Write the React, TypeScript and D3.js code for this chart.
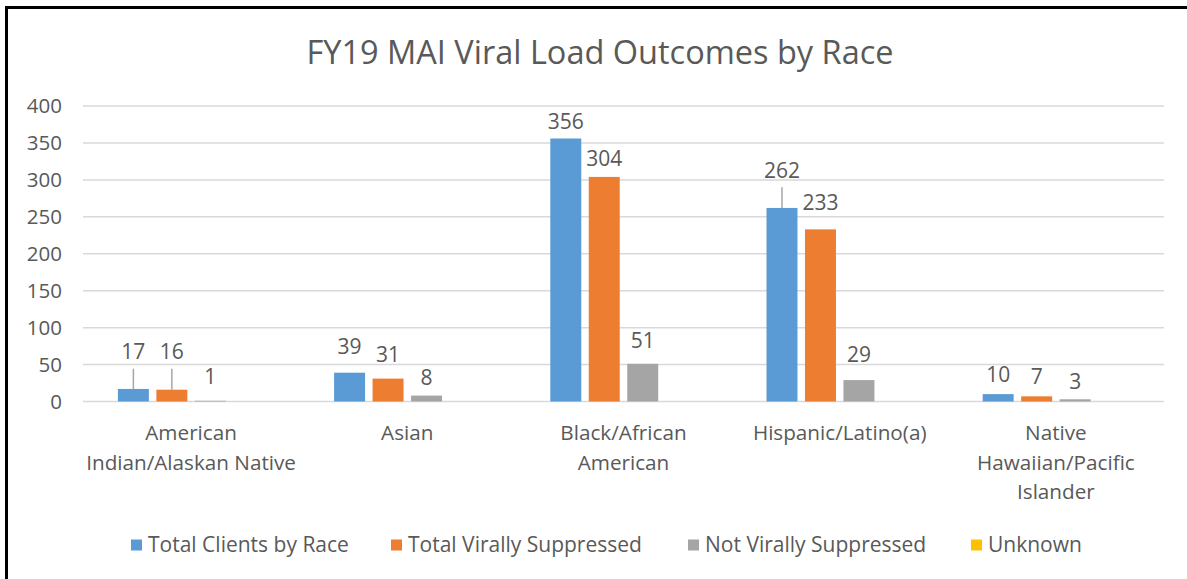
import React from "react";
import * as d3 from "d3";

const title = "FY19 MAI Viral Load Outcomes by Race";
const categories = [
  "American Indian/Alaskan Native",
  "Asian",
  "Black/African American",
  "Hispanic/Latino(a)",
  "Native Hawaiian/Pacific Islander",
];
const categoryLines = [
  ["American", "Indian/Alaskan Native"],
  ["Asian"],
  ["Black/African", "American"],
  ["Hispanic/Latino(a)"],
  ["Native", "Hawaiian/Pacific", "Islander"],
];
const seriesNames = ["Total Clients by Race", "Total Virally Suppressed", "Not Virally Suppressed", "Unknown"];
const totalClients = [17, 39, 356, 262, 10];
const totalSuppressed = [16, 31, 304, 233, 7];
const notSuppressed = [1, 8, 51, 29, 3];
const unknown = [0, 0, 0, 0, 0];
// where each data label's centre sits, in axis units (labels were placed by hand)
const clientsLabelAt = [67.4, 74, 378.6, 313, 36];
const suppressedLabelAt = [67.4, 64, 329, 269, 33.6];
const notSuppressedLabelAt = [33.6, 32, 82, 63, 27];
const unknownLabelAt = [0, 0, 0, 0, 0];
const yTicks = [0, 50, 100, 150, 200, 250, 300, 350, 400];

const colors = ["#5B9BD5", "#ED7D31", "#A5A5A5", "#FFC000"];
const textColor = "#595959";
const font = "'Open Sans', sans-serif";

export default function App() {
  const W = 1187, H = 579;
  const left = 83, right = 1164, top = 106, bottom = 401.5;
  const series = [totalClients, totalSuppressed, notSuppressed, unknown];
  const labelAt = [clientsLabelAt, suppressedLabelAt, notSuppressedLabelAt, unknownLabelAt];

  const x0 = d3.scaleBand<string>().domain(categories).range([left, right]).paddingInner(0).paddingOuter(0);
  const bw = x0.bandwidth();
  const side = bw * 0.1614;
  const x1 = d3.scaleBand<string>().domain(seriesNames).range([side, bw - side]).paddingInner(0.195).paddingOuter(0);
  const y = d3.scaleLinear().domain([0, 400]).range([bottom, top]);

  const legendX = [131, 391, 688, 971];

  return (
    <svg width={W} height={H} style={{ position: "absolute", left: 0, top: 0, background: "#fff" }} fontFamily={font}>
      <rect x={0} y={0} width={W} height={H} fill="#fff" />
      <rect x={6.5} y={7.5} width={1300} height={700} fill="none" stroke="#000" strokeWidth={3} />
      <text x={600} y={64} textAnchor="middle" fontSize={32.5} fill={textColor}>{title}</text>
      {yTicks.map((t) => (
        <g key={t}>
          <line x1={left} x2={right} y1={y(t)} y2={y(t)} stroke="#D9D9D9" strokeWidth={1.5} />
          <text x={62} y={y(t)} dy="0.35em" textAnchor="end" fontSize={20.5} fill={textColor}>{t}</text>
        </g>
      ))}
      {categories.map((c, ci) => (
        <g key={c} transform={`translate(${x0(c)},0)`}>
          {series.map((s, si) => {
            const v = s[ci];
            if (v <= 0) return null;
            const bx = x1(seriesNames[si])!;
            const by = y(v);
            const ly = y(labelAt[si][ci]);
            const cx = bx + x1.bandwidth() / 2;
            const gap = by - ly;
            return (
              <g key={si}>
                <rect x={bx} y={by} width={x1.bandwidth()} height={bottom - by} fill={colors[si]} />
                {gap > 32 && (
                  <line x1={cx} x2={cx} y1={ly + 17} y2={by} stroke="#A6A6A6" strokeWidth={1.5} />
                )}
                <text x={cx} y={ly} dy="0.35em" textAnchor="middle" fontSize={21} fill={textColor}>{v}</text>
              </g>
            );
          })}
          {categoryLines[ci].map((ln, li) => (
            <text key={li} x={bw / 2} y={433 + li * 29.5} dy="0.35em" textAnchor="middle" fontSize={20.7} fill={textColor}>{ln}</text>
          ))}
        </g>
      ))}
      {seriesNames.map((n, i) => (
        <g key={n} transform={`translate(${legendX[i]},545)`}>
          <rect x={0} y={-5.5} width={11} height={11} fill={colors[i]} />
          <text x={17} y={0} dy="0.35em" fontSize={21} fill={textColor}>{n}</text>
        </g>
      ))}
    </svg>
  );
}
